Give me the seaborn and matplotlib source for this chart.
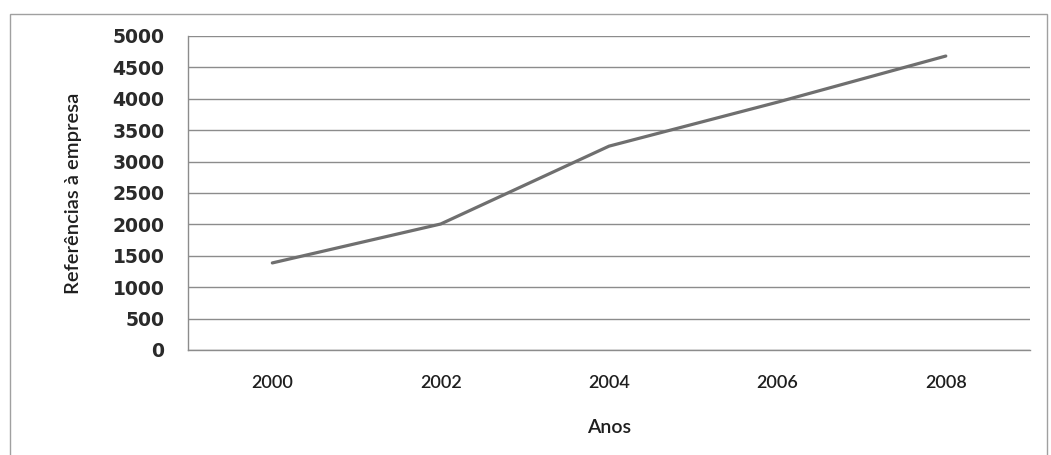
#!/usr/bin/env python3

import matplotlib.pyplot as plt
import pandas as pd
import seaborn as sns
from matplotlib.patches import Rectangle

OUTPUT_FILE = "out.png"

years = ["2000", "2002", "2004", "2006", "2008"]
references = [1385, 2005, 3245, 3945, 4680]
y_ticks = list(range(0, 5001, 500))

GRID_GREY = "#8c8c8c"
LINE_GREY = "#6f6f6f"
TEXT = "#1e1e1e"


def plot_references(dataset: pd.DataFrame):
    fig = plt.figure(figsize=(10.51, 4.55), dpi=100)
    ax = fig.add_axes([0.179, 0.231, 0.801, 0.690])

    sns.lineplot(
        data=dataset,
        x="Anos",
        y="Referencias",
        color=LINE_GREY,
        linewidth=2.3,
        legend=False,
        ax=ax,
    )

    ax.set_xlim(-0.5, len(years) - 0.5)
    ax.set_ylim(0, 5000)
    ax.set_yticks(y_ticks)
    ax.set_yticklabels([str(t) for t in y_ticks], family="DejaVu Sans",
                       fontsize=13.5, fontweight="bold", color="#2a2a2a")
    ax.set_xticks(range(len(years)))
    ax.set_xticklabels(years, family="Lato", fontsize=13,
                       fontweight="semibold", color=TEXT)

    ax.grid(axis="y", color=GRID_GREY, linewidth=1.0)
    ax.grid(axis="x", visible=False)
    ax.set_axisbelow(True)
    ax.tick_params(axis="y", length=10, color=GRID_GREY, pad=7)
    ax.tick_params(axis="x", length=0, pad=18)

    for side in ["top", "right"]:
        ax.spines[side].set_visible(False)
    for side in ["left", "bottom"]:
        ax.spines[side].set_color(GRID_GREY)
        ax.spines[side].set_linewidth(1.0)

    ax.set_ylabel("Referências à empresa", family="Lato", fontsize=14.5,
                  fontweight="semibold", color=TEXT, labelpad=22)
    ax.set_xlabel("Anos", family="Lato", fontsize=14,
                  fontweight="semibold", color=TEXT, labelpad=20)

    # thin frame around the whole chart
    fig.patches.append(Rectangle((0.0095, -0.01), 0.987, 0.98,
                                 transform=fig.transFigure, fill=False,
                                 edgecolor="#a0a0a0", linewidth=1.0))

    fig.savefig(OUTPUT_FILE, dpi=100)


def main():
    sns.set_style("white")
    df = pd.DataFrame({"Anos": years, "Referencias": references})
    plot_references(df)


if __name__ == "__main__":
    main()
